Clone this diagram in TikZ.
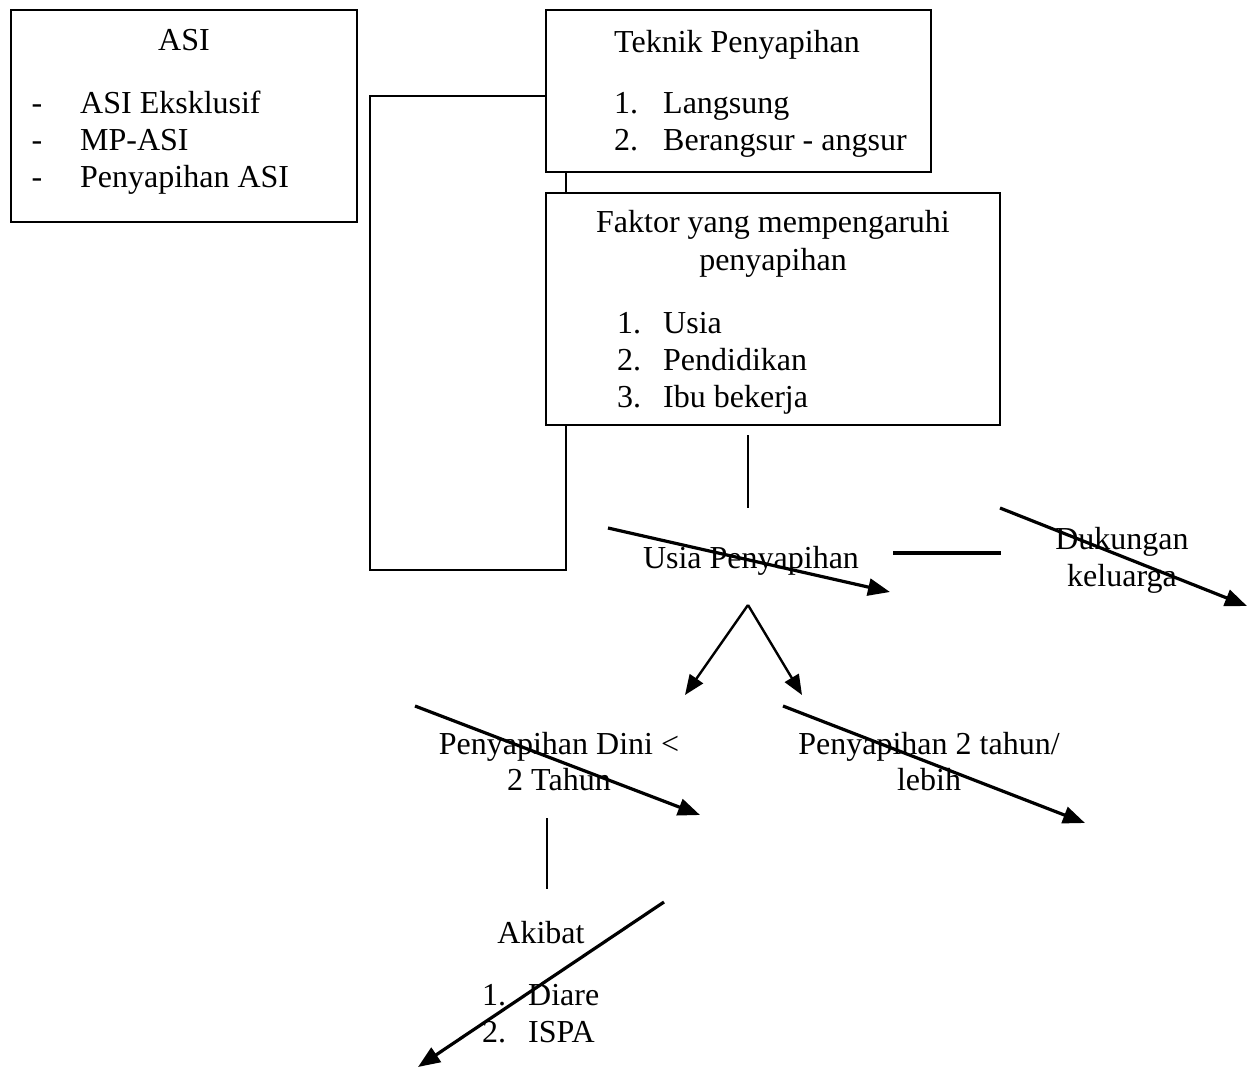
\documentclass[tikz,border=0pt]{standalone}
\usepackage{fontspec}
\setmainfont{Liberation Serif}
\usetikzlibrary{arrows.meta}
\begin{document}
\begin{tikzpicture}[x=1pt,y={(0pt,-1pt)},
  font=\fontsize{32}{37}\selectfont,
  box/.style={draw, line width=1.8pt, inner sep=0pt},
  txt/.style={inner sep=0pt, anchor=base},
  txtl/.style={inner sep=0pt, anchor=base west},
  thin/.style={line width=1.6pt},
  strike/.style={line width=3.2pt, -{Triangle[length=22pt,width=17pt]}},
  branch/.style={line width=2.4pt, -{Triangle[length=20pt,width=16pt]}}]
\useasboundingbox (0,0) rectangle (1254,1070);
% boxes
\node[box, minimum width=346pt, minimum height=212pt] (asi) at (184,116) {};
\node[box, minimum width=385pt, minimum height=162pt] (tek) at (738.5,91) {};
\node[box, minimum width=454pt, minimum height=232pt] (fak) at (773,309) {};
% ASI text
\node[txt] (asit) at (184,51) {ASI};
\node[txt] (d1) at (37,114) {-};
\node[txt] (d2) at (37,151) {-};
\node[txt] (d3) at (37,188) {-};
\node[txtl] (a1) at (80,114) {ASI Eksklusif};
\node[txtl] (a2) at (80,151) {MP-ASI};
\node[txtl] (a3) at (80,188) {Penyapihan ASI};
% Teknik text
\node[txtl] (tekt) at (614,53) {Teknik Penyapihan};
\node[txtl] (tn1) at (614,114) {1.};
\node[txtl] (tn2) at (614,151) {2.};
\node[txtl] (t1) at (663,114) {Langsung};
\node[txtl] (t2) at (663,151) {Berangsur - angsur};
% Faktor text
\node[txt] (fakt1) at (773,233) {Faktor yang mempengaruhi};
\node[txt] (fakt2) at (773,270) {penyapihan};
\node[txtl] (fn1) at (617,333) {1.};
\node[txtl] (fn2) at (617,370) {2.};
\node[txtl] (fn3) at (617,407) {3.};
\node[txtl] (f1) at (663,333) {Usia};
\node[txtl] (f2) at (663,370) {Pendidikan};
\node[txtl] (f3) at (663,407) {Ibu bekerja};
% free labels
\node[txt] (usia) at (751,568) {Usia Penyapihan};
\node[txt] (duk1) at (1122,549) {Dukungan};
\node[txt] (duk2) at (1122,586) {keluarga};
\node[txt] (dini1) at (559,754) {Penyapihan Dini <};
\node[txt] (dini2) at (559,790) {2 Tahun};
\node[txt] (leb1) at (929,754) {Penyapihan 2 tahun/};
\node[txt] (leb2) at (929,790) {lebih};
\node[txt] (akb) at (541,943) {Akibat};
\node[txtl] (an1) at (482,1005) {1.};
\node[txtl] (an2) at (482,1042) {2.};
\node[txtl] (ak1) at (528,1005) {Diare};
\node[txtl] (ak2) at (528,1042) {ISPA};
% coordinates
\coordinate (lc1) at (370,96);
\coordinate (lc2) at (370,570);
\coordinate (lc3) at (566,570);
\coordinate (tb) at (566,172);
\coordinate (ft) at (566,193);
\coordinate (fb) at (566,425);
\coordinate (v1a) at (748,435);
\coordinate (v1b) at (748,508);
\coordinate (s1a) at (608,528);
\coordinate (s1b) at (890,592);
\coordinate (h1a) at (893,553);
\coordinate (h1b) at (1001,553);
\coordinate (s2a) at (1000,508);
\coordinate (s2b) at (1247,606);
\coordinate (apex) at (748,605);
\coordinate (bl) at (685,695);
\coordinate (br) at (802,695);
\coordinate (s3a) at (415,706);
\coordinate (s3b) at (700,815);
\coordinate (s4a) at (783,706);
\coordinate (s4b) at (1085,823);
\coordinate (v2a) at (547,818);
\coordinate (v2b) at (547,889);
\coordinate (s5a) at (664,902);
\coordinate (s5b) at (418,1067);
% connectors
\draw[line width=2pt] (tek.west |- lc1) -- (lc1) -- (lc2) -- (lc3) -- (fb);
\draw[thin] (tb) -- (ft);
\draw[thin] (v1a) -- (v1b);
\draw[strike] (s1a) -- (s1b);
\draw[line width=3.2pt] (h1a) -- (h1b);
\draw[strike] (s2a) -- (s2b);
\draw[branch] (apex) -- (bl);
\draw[branch] (apex) -- (br);
\draw[strike] (s3a) -- (s3b);
\draw[strike] (s4a) -- (s4b);
\draw[thin] (v2a) -- (v2b);
\draw[strike] (s5a) -- (s5b);
\end{tikzpicture}
\end{document}
